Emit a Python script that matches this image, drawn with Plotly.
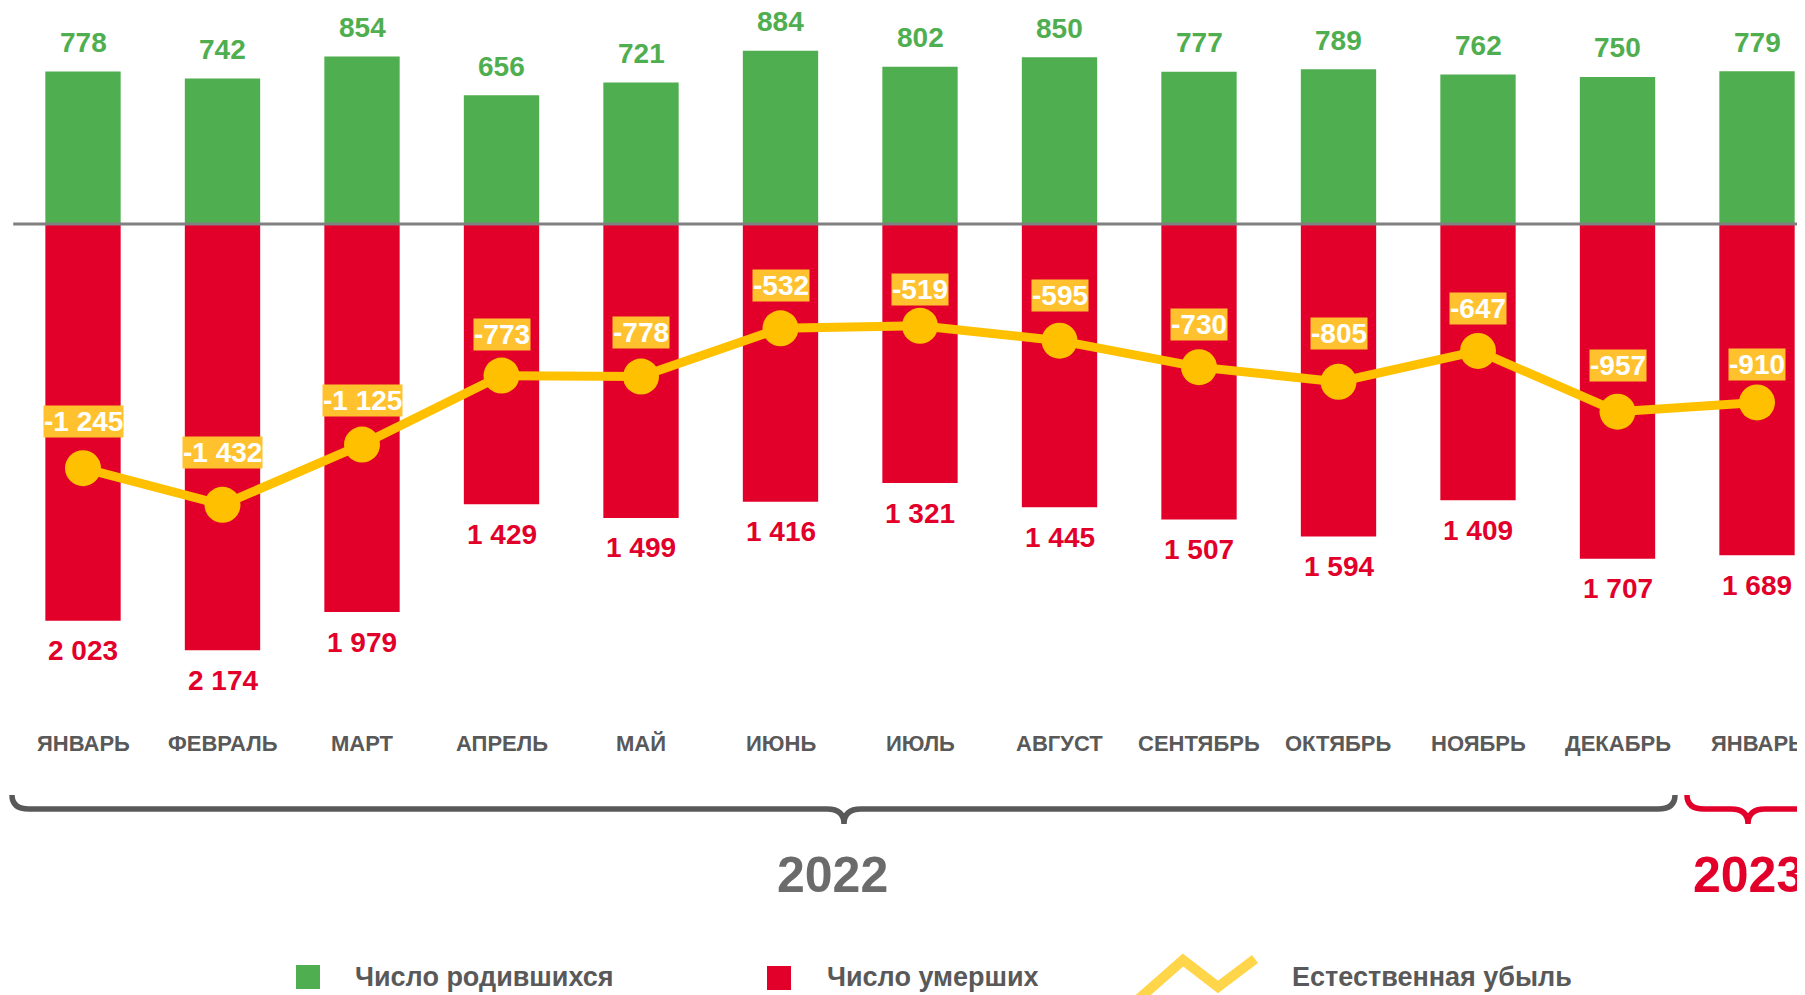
import plotly.graph_objects as go

# ---- data ----
months = ["ЯНВАРЬ", "ФЕВРАЛЬ", "МАРТ", "АПРЕЛЬ", "МАЙ", "ИЮНЬ", "ИЮЛЬ",
          "АВГУСТ", "СЕНТЯБРЬ", "ОКТЯБРЬ", "НОЯБРЬ", "ДЕКАБРЬ", "ЯНВАРЬ"]
births = [778, 742, 854, 656, 721, 884, 802, 850, 777, 789, 762, 750, 779]
deaths = [2023, 2174, 1979, 1429, 1499, 1416, 1321, 1445, 1507, 1594, 1409, 1707, 1689]
natural = [-1245, -1432, -1125, -773, -778, -532, -519, -595, -730, -805, -647, -957, -910]
years = ["2022", "2023"]
legend_names = ["Число родившихся", "Число умерших", "Естественная убыль"]

# ---- styling ----
W, H = 1805, 995
OFF = 8  # page body margin compensation
GREEN = "#4FAE4F"
RED = "#E2002B"
YELLOW = "#FFC000"
BOX = "#FFC22E"
GRAY = "#595959"
FONT = "Liberation Sans, Arial, sans-serif"

PX_PER_UNIT = 0.1961
ZERO_PX = 224 - OFF
X0_PX = 83 - OFF
PX_PER_CAT = 139.5
# vertical pixel offsets of the natural-decrease label boxes above their points
label_lift = [47, 52, 44, 41, 44, 43, 36, 45, 43, 48, 42, 46, 38]

xs = list(range(len(months)))


def fmt(v):
    return f"{v:,}".replace(",", " ")


def px_x(px):
    return (px - OFF) / W


def px_y(py):
    return 1 - (py - OFF) / H


def pp(px, py):
    return f"{px_x(px):.5f},{px_y(py):.5f}"


fig = go.Figure()
fig.add_trace(go.Bar(x=xs, y=births, width=0.54, marker=dict(color=GREEN, line=dict(width=0)),
                     name=legend_names[0], showlegend=False, hoverinfo="y"))
fig.add_trace(go.Bar(x=xs, y=[-d for d in deaths], width=0.54, marker=dict(color=RED, line=dict(width=0)),
                     name=legend_names[1], showlegend=False, customdata=deaths,
                     hovertemplate="%{customdata}<extra></extra>"))
fig.add_trace(go.Scatter(x=xs, y=natural, mode="lines+markers",
                         line=dict(color=YELLOW, width=9),
                         marker=dict(color=YELLOW, size=36),
                         name=legend_names[2], showlegend=False))

ann = []
for i in xs:
    ann.append(dict(x=i, y=births[i], xref="x", yref="y", text=f"<b>{fmt(births[i])}</b>",
                    xanchor="center", yanchor="middle",
                    showarrow=False, yshift=29, font=dict(family=FONT, size=28, color=GREEN)))
    ann.append(dict(x=i, y=-deaths[i], xref="x", yref="y", text=f"<b>{fmt(deaths[i])}</b>",
                    xanchor="center", yanchor="middle",
                    showarrow=False, yshift=-30, font=dict(family=FONT, size=28, color=RED)))
    ann.append(dict(x=i, y=natural[i], xref="x", yref="y", text=f"<b>{fmt(natural[i])}</b>",
                    xanchor="center", yanchor="middle",
                    showarrow=False, yshift=label_lift[i], bgcolor=BOX, borderpad=0,
                    font=dict(family=FONT, size=28, color="white")))
    ann.append(dict(x=i, y=px_y(743), xref="x", yref="paper", text=f"<b>{months[i]}</b>",
                    xanchor="center", yanchor="middle",
                    showarrow=False, font=dict(family=FONT, size=22, color=GRAY)))

# years
ann.append(dict(x=px_x(832), y=px_y(875), xref="paper", yref="paper", text=f"<b>{years[0]}</b>",
                xanchor="center", yanchor="middle",
                showarrow=False, font=dict(family=FONT, size=50, color="#6B6B6B")))
ann.append(dict(x=px_x(1748), y=px_y(875), xref="paper", yref="paper", text=f"<b>{years[1]}</b>",
                xanchor="center", yanchor="middle",
                showarrow=False, font=dict(family=FONT, size=50, color=RED)))

# legend texts
for name, lx in zip(legend_names, [353, 825, 1290]):
    ann.append(dict(x=px_x(lx), y=px_y(977), xref="paper", yref="paper", text=f"<b>{name}</b>",
                    xanchor="left", yanchor="middle",
                    showarrow=False, font=dict(family=FONT, size=27, color=GRAY)))


def brace(x0, x1, xt, ytop=795, ymid=809, ytip=824, r=17):
    return ("M" + pp(x0, ytop) + " Q" + pp(x0, ymid) + " " + pp(x0 + r, ymid) +
            " L" + pp(xt - r, ymid) + " Q" + pp(xt, ymid) + " " + pp(xt, ytip) +
            " Q" + pp(xt, ymid) + " " + pp(xt + r, ymid) +
            " L" + pp(x1 - r, ymid) + " Q" + pp(x1, ymid) + " " + pp(x1, ytop))


x_left = -X0_PX / PX_PER_CAT
x_right = (W - X0_PX) / PX_PER_CAT
shapes = [
    dict(type="line", xref="x", yref="y", x0=-0.5, x1=x_right, y0=0, y1=0,
         line=dict(color="#808080", width=3), layer="above"),
    dict(type="path", xref="paper", yref="paper", path=brace(12, 1675, 844),
         line=dict(color=GRAY, width=5.5)),
    dict(type="path", xref="paper", yref="paper", path=brace(1687, 1812, 1748),
         line=dict(color=RED, width=5.5)),
    # legend icons
    dict(type="rect", xref="paper", yref="paper", x0=px_x(296), x1=px_x(320),
         y0=px_y(989), y1=px_y(965), fillcolor=GREEN, line=dict(width=0)),
    dict(type="rect", xref="paper", yref="paper", x0=px_x(767), x1=px_x(791),
         y0=px_y(990), y1=px_y(966), fillcolor=RED, line=dict(width=0)),
    dict(type="path", xref="paper", yref="paper",
         path="M" + pp(1133, 1004) + " L" + pp(1183, 960) + " L" + pp(1218, 987) + " L" + pp(1255, 959),
         line=dict(color="#FFD54A", width=10)),
]

fig.update_layout(
    width=W, height=H,
    margin=dict(l=0, r=0, t=0, b=0),
    paper_bgcolor="white", plot_bgcolor="white",
    barmode="overlay",
    xaxis=dict(range=[x_left, x_right], visible=False, fixedrange=True),
    yaxis=dict(range=[-(H - ZERO_PX) / PX_PER_UNIT, ZERO_PX / PX_PER_UNIT],
               visible=False, fixedrange=True),
    annotations=ann,
    shapes=shapes,
    font=dict(family=FONT),
)

fig.write_html("out.html")
